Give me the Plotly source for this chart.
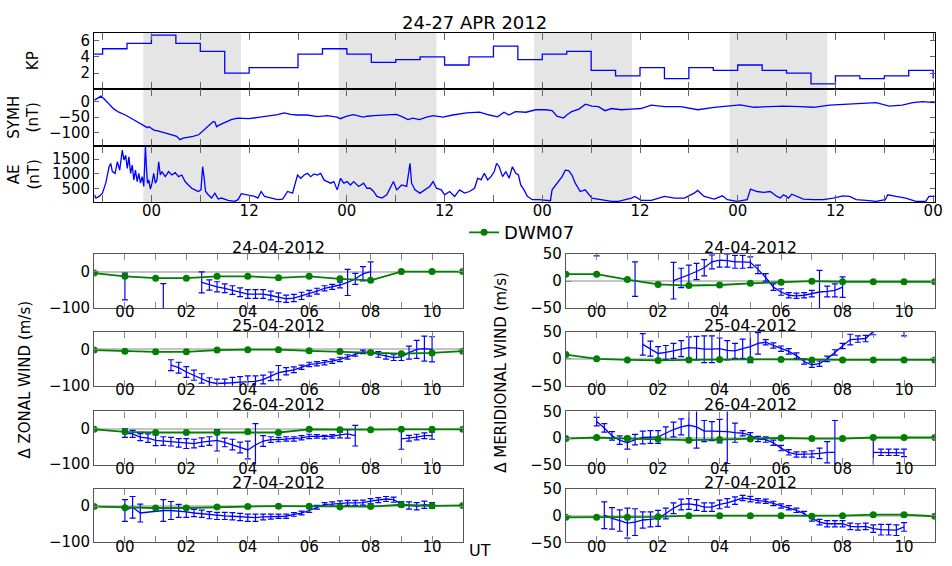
import plotly.graph_objects as go

FIG_W, FIG_H = 952, 566
FONT = "DejaVu Sans"
BLUE = "#0000ff"
GREEN = "#007f00"
SHADE = "#e5e5e5"

TITLE = "24-27 APR 2012"
DAY_LABELS = ["24-04-2012", "25-04-2012", "26-04-2012", "27-04-2012"]

# ---------------- geomagnetic indices (hours from 2012-04-24 00 UT) ----------------
KP_HOURS = [-9, -6, -3, 0, 3, 6, 9, 12, 15, 18, 21, 24, 27, 30, 33, 36, 39, 42, 45, 48,
            51, 54, 57, 60, 63, 66, 69, 72, 75, 78, 81, 84, 87, 90, 93, 96]
KP_VALUES = [4.33, 5.0, 5.67, 6.67, 5.67, 4.67, 2.0, 2.67, 2.67, 4.33, 5.0, 4.33, 3.33, 3.67,
             4.0, 3.0, 4.0, 5.33, 3.67, 4.33, 4.67, 2.33, 1.67, 2.67, 1.33, 2.67, 2.33, 3.0,
             2.33, 2.0, 0.67, 1.67, 1.33, 1.67, 2.33, 1.33]

SYMH_HOURS = [-7.0, -6.2, -5.8, -5.2, -4.6, -4.0, -3.2, -2.4, -1.5, -0.9, -0.5, -0.3, 0.3, 0.9,
              1.7, 2.5, 3.1, 3.5, 3.9, 4.5, 5.1, 5.8, 6.4, 7.0, 7.6, 7.8, 8.0, 8.3, 9.0, 9.8,
              10.6, 11.9, 13.1, 14.3, 15.5, 16.3, 17.1, 17.9, 19.1, 20.4, 21.6, 22.8, 23.2,
              24.0, 24.8, 26.0, 26.5, 27.3, 28.9, 30.1, 30.9, 31.5, 32.1, 32.9, 33.8, 34.6,
              35.8, 37.0, 38.7, 40.3, 41.5, 42.5, 43.3, 43.9, 44.7, 46.0, 47.2, 48.4, 49.2,
              49.8, 50.6, 51.0, 51.6, 52.5, 53.3, 54.1, 54.9, 55.7, 56.5, 57.7, 58.9, 60.1,
              61.4, 63.0, 65.0, 67.1, 69.1, 71.1, 72.3, 74.0, 76.0, 77.6, 79.7, 81.3, 83.3,
              85.3, 87.4, 89.0, 90.6, 92.2, 93.5, 94.7, 96.2]
SYMH_VALUES = [5, 18, 9, -8, -24, -34, -43, -55, -68, -76, -84, -81, -92, -95,
               -100, -107, -112, -123, -118, -116, -112, -107, -92, -76, -64, -66, -81, -76, -68, -58,
               -53, -55, -51, -47, -42, -36, -41, -43, -43, -48, -45, -50, -55,
               -47, -42, -50, -47, -45, -43, -41, -50, -58, -53, -58, -50, -45,
               -50, -43, -36, -34, -43, -49, -34, -43, -32, -34, -26, -26, -29,
               -47, -53, -43, -32, -24, -8, -14, -16, -29, -22, -26, -24, -22,
               -11, -16, -16, -26, -18, -14, -10, -18, -16, -14, -16, -18, -11,
               -8, -6, -3, -14, -11, -3, 0, -3]

AE_HOURS = [-7.0, -6.83, -6.42, -6.02, -5.61, -5.2, -5.0, -4.8, -4.47, -4.19, -3.9, -3.58, -3.38,
            -3.17, -2.97, -2.77, -2.56, -2.36, -2.16, -1.96, -1.75, -1.55, -1.35, -1.14, -0.94,
            -0.74, -0.62, -0.49, -0.33, -0.13, 0.07, 0.28, 0.48, 0.68, 0.89, 1.09, 1.29, 1.7,
            2.1, 2.51, 2.92, 3.32, 3.73, 4.13, 4.54, 4.95, 5.35, 5.76, 6.08, 6.29, 6.45, 6.65,
            6.98, 7.38, 7.79, 8.2, 8.6, 9.41, 10.22, 10.63, 11.04, 11.85, 12.66, 13.07, 13.47,
            13.88, 14.69, 15.5, 16.11, 16.72, 17.33, 17.94, 18.34, 18.75, 19.16, 19.56, 19.97,
            20.37, 20.78, 21.19, 21.59, 22.0, 22.4, 22.81, 23.22, 23.62, 24.03, 24.43, 24.84,
            25.45, 26.06, 26.47, 26.88, 27.28, 27.69, 28.3, 28.9, 29.72, 30.12, 30.73, 31.34,
            31.75, 31.95, 32.36, 32.97, 33.58, 34.18, 34.59, 35.0, 35.6, 36.01, 36.62, 37.23,
            37.84, 38.45, 39.06, 39.67, 40.07, 40.48, 40.88, 41.29, 41.7, 42.1, 42.39, 42.71,
            43.12, 43.52, 43.93, 44.33, 44.74, 45.07, 45.35, 45.76, 46.16, 46.77, 47.58, 48.4,
            49.0, 49.2, 49.82, 50.43, 50.83, 51.24, 51.64, 52.05, 52.66, 53.27, 54.08, 54.89,
            55.7, 56.51, 57.33, 58.14, 58.95, 59.36, 60.17, 61.39, 63.01, 64.23, 65.45, 66.66,
            67.07, 67.88, 69.1, 70.12, 70.72, 71.94, 73.16, 73.57, 74.38, 75.19, 76.0, 76.82,
            77.22, 77.63, 78.24, 78.64, 79.25, 80.06, 81.28, 82.5, 83.72, 84.94, 85.75, 86.56,
            87.78, 88.99, 90.13, 90.42, 91.43, 92.65, 93.87, 95.09, 95.49, 96.22]
AE_VALUES = [300, 190, 245, 355, 690, 1245, 1355, 1080, 1020, 1410, 1130, 1800, 1465,
             1630, 1190, 1575, 1020, 1300, 800, 1130, 745, 1020, 690, 910, 580,
             1935, 1245, 690, 800, 490, 690, 1020, 690, 800, 1410, 965, 1080, 910,
             1080, 965, 1045, 910, 965, 745, 630, 520, 465, 410, 465, 1245, 910, 410,
             300, 190, 355, 155, 190, 110, 80, 135, 335, 300, 245, 190, 410,
             245, 190, 135, 155, 410, 355, 965, 855, 965, 1020, 910, 1000,
             965, 1020, 800, 745, 690, 745, 465, 855, 690, 745, 630, 745,
             580, 690, 520, 520, 410, 245, 190, 300, 745, 465, 630, 580,
             1355, 690, 465, 355, 465, 580, 745, 520, 465, 300, 410, 245,
             465, 355, 410, 520, 855, 800, 1020, 800, 910, 1080, 1355, 1245,
             910, 1080, 855, 1245, 1020, 965, 630, 465, 245, 135, 135, 110,
             100, 465, 690, 910, 1130, 1110, 965, 690, 410, 465, 190, 155,
             135, 80, 80, 135, 190, 245, 110, 110, 245, 190, 190, 355,
             445, 245, 155, 265, 135, 80, 135, 490, 410, 380, 410, 245,
             190, 300, 190, 320, 245, 155, 135, 135, 190, 265, 245, 135,
             110, 80, 135, 300, 245, 190, 80, 80, 245, 245]

NIGHT_STARTS = [-1, 23, 47, 71]
NIGHT_ENDS = [11, 35, 59, 83]

TOP_TICK_HOURS = [-6, 0, 6, 12, 18, 24, 30, 36, 42, 48, 54, 60, 66, 72, 78, 84, 90, 96]
TOP_TICK_TEXT = ["", "00", "", "12", "", "00", "", "12", "", "00", "", "12", "", "00", "", "12", "", "00"]
KP_TICKS = [2, 4, 6]
SYMH_TICKS = [-100, -50, 0]
SYMH_TICK_TEXT = ["\u2212100", "\u221250", "0"]
AE_TICKS = [500, 1000, 1500]

# ---------------- wind panels (UT hours) ----------------
UT_TICKS = [-1, 0, 1, 2, 3, 4, 5, 6, 7, 8, 9, 10, 11]
UT_TICK_TEXT = ["", "00", "", "02", "", "04", "", "06", "", "08", "", "10", ""]
MODEL_HOURS = [-1, 0, 1, 2, 3, 4, 5, 6, 7, 8, 9, 10, 11]

# DWM07 model
ZON_MODEL_24 = [-4, -13, -18, -18, -13, -13, -17, -13, -20, -24, 0, 0, 0]
ZON_MODEL_25 = [-2, -5, -7, -7, -2, -1, -1, -4, -6, -9, -12, -10, -5]
ZON_MODEL_26 = [-2, -9, -11, -11, -11, -9, -11, -2, -3, -3, -2, -2, -2]
ZON_MODEL_27 = [-1, -4, -5, -5, -2, -1, 0, 0, -2, -1, 4, 1, 2]
MER_MODEL_24 = [13, 13, 3, -6, -8, -7, -4, -2, 0, -1, -1, -1, -1]
MER_MODEL_25 = [8, 0, -2, -3, -2, -1, -1, -1, -2, -2, -2, -2, -2]
MER_MODEL_26 = [-1, 1, -1, -2, -4, -3, -2, 0, -1, -1, 1, 1, 1]
MER_MODEL_27 = [-3, -3, -3, -2, 0, 0, 0, 0, -1, 0, 2, 2, -1]

# observed (None = gap)
ZON_T_24 = [0.0, 0.5, 1.25, 2.0, 2.5, 2.75, 3.0, 3.25, 3.5, 3.75, 4.0, 4.25, 4.5, 4.75, 5.0,
            5.25, 5.5, 5.75, 6.0, 6.25, 6.5, 6.75, 7.0, 7.25, 7.5, 7.75, 8.0]
ZON_V_24 = [-41, None, -95, None, -30, -37, -42, -46, -51, -57, -62, -62, -62, -66, -71,
            -75, -73, -67, -60, -54, -46, -42, -37, -30, -20, -6, 0]
ZON_E_24 = [37, None, 62, None, 29, 14, 14, 12, 12, 12, 12, 12, 12, 12, 12,
            10, 10, 10, 8, 8, 7, 7, 8, 36, 15, 20, 27]

ZON_T_25 = [1.5, 1.75, 2.0, 2.25, 2.5, 2.75, 3.0, 3.25, 3.5, 3.75, 4.0, 4.25, 4.5, 4.75, 5.0,
            5.25, 5.5, 5.75, 6.0, 6.25, 6.5, 6.75, 7.0, 7.25, 7.5, 7.75, 8.0, 8.25, 8.5, 8.75,
            9.0, 9.25, 9.5, 9.75, 10.0]
ZON_V_25 = [-44, -51, -63, -72, -81, -91, -95, -95, -93, -91, -89, -89, -84, -75, -65,
            -61, -57, -50, -42, -40, -37, -33, -28, -21, -14, -7, -9, -14, -19, -23,
            -21, -9, 0, 2, 0]
ZON_E_25 = [15, 15, 15, 14, 13, 12, 12, 12, 15, 15, 15, 15, 12, 12, 20,
            10, 8, 6, 6, 6, 6, 6, 6, 6, 5, 5, 5, 8, 8, 8,
            10, 18, 25, 35, 35]

ZON_T_26 = [0.0, 0.25, 0.5, 0.75, 1.0, 1.25, 1.5, 1.75, 2.0, 2.25, 2.5, 2.75, 3.0, 3.25, 3.5,
            3.75, 4.0, 4.25, 4.5, 4.75, 5.0, 5.25, 5.5, 5.75, 6.0, 6.25, 6.5, 6.75, 7.0, 7.25,
            7.5, 8.25, 9.0, 9.25, 9.5, 9.75, 10.0]
ZON_V_26 = [-13, -15, -24, -27, -33, -35, -37, -40, -42, -42, -38, -35, -33, -39, -45,
            -53, -60, -46, -35, -31, -31, -29, -29, -26, -22, -22, -24, -22, -18, -15,
            -20, None, -29, -27, -24, -20, -20]
ZON_E_26 = [12, 10, 10, 12, 15, 12, 12, 12, 14, 12, 12, 12, 30, 12, 15,
            15, 25, 60, 15, 8, 6, 6, 6, 6, 6, 5, 5, 5, 8, 12,
            29, None, 29, 8, 8, 8, 10]

ZON_T_27 = [0.0, 0.25, 0.5, 1.25, 1.5, 1.75, 2.0, 2.25, 2.5, 2.75, 3.0, 3.25, 3.5, 3.75, 4.0,
            4.25, 4.5, 4.75, 5.0, 5.25, 5.5, 5.75, 6.0, 6.25, 6.5, 6.75, 7.0, 7.25, 7.5, 7.75,
            8.0, 8.25, 8.5, 8.75, 9.0, 9.25, 9.5, 9.75, 10.0]
ZON_V_27 = [-12, -3, -19, -12, -12, -13, -16, -19, -21, -25, -27, -27, -28, -30, -32,
            -32, -30, -29, -28, -28, -23, -19, -12, -3, 5, 6, 8, 9, 9, 10,
            14, 17, 20, 18, 6, 2, 0, 4, 2]
ZON_E_27 = [30, 30, 25, 30, 25, 18, 15, 10, 10, 10, 10, 10, 10, 10, 10,
            10, 8, 7, 6, 6, 5, 5, 5, 5, 5, 6, 7, 7, 7, 7,
            7, 7, 7, 7, 7, 10, 10, 10, 8]

MER_T_24 = [0.0, 0.5, 1.25, 2.0, 2.5, 2.75, 3.0, 3.25, 3.5, 3.75, 4.0, 4.25, 4.5, 4.75, 5.0,
            5.25, 5.5, 5.75, 6.0, 6.25, 6.5, 6.75, 7.0, 7.25, 7.5, 7.75, 8.0]
MER_V_24 = [75, None, 4, None, 1, 6, 12, 18, 25, 36, 39, 38, 36, 36, 35,
            22, 7, -11, -20, -26, -27, -26, -23, -20, -19, -17, -11]
MER_E_24 = [28, None, 32, None, 34, 18, 18, 15, 15, 13, 13, 12, 12, 12, 10,
            8, 7, 6, 6, 5, 5, 5, 6, 40, 10, 12, 19]

MER_T_25 = [1.5, 1.75, 2.0, 2.25, 2.5, 2.75, 3.0, 3.25, 3.5, 3.75, 4.0, 4.25, 4.5, 4.75, 5.0,
            5.25, 5.5, 5.75, 6.0, 6.25, 6.5, 6.75, 7.0, 7.25, 7.5, 7.75, 8.0, 8.25, 8.5, 8.75,
            9.0, 9.4, 9.75, 10.0]
MER_V_25 = [27, 19, 10, 12, 15, 19, 21, 20, 18, 18, 19, 16, 15, 19, 23,
            29, 31, 25, 19, 14, 6, -5, -11, -9, 0, 12, 24, 36, 37, 38,
            51, None, 62, 60]
MER_E_25 = [20, 14, 13, 13, 14, 15, 20, 22, 25, 25, 20, 18, 14, 18, 30,
            20, 5, 5, 5, 5, 5, 5, 5, 5, 5, 5, 5, 10, 6, 6,
            6, None, 10, 17]

MER_T_26 = [0.0, 0.25, 0.5, 0.75, 1.0, 1.25, 1.5, 1.75, 2.0, 2.25, 2.5, 2.75, 3.0, 3.25, 3.5,
            3.75, 4.0, 4.25, 4.5, 4.75, 5.0, 5.25, 5.5, 5.75, 6.0, 6.25, 6.5, 6.75, 7.0, 7.25,
            7.5, 7.75, 8.4, 9.0, 9.25, 9.5, 9.75, 10.0]
MER_V_26 = [31, 19, 4, -4, -9, -3, 1, 2, 2, 9, 16, 21, 24, 21, 13,
            13, 13, 12, 10, 9, 5, -2, -3, -9, -19, -27, -31, -31, -30, -29,
            -27, -27, None, -27, -27, -27, -27, -28]
MER_E_26 = [8, 8, 8, 8, 12, 10, 12, 12, 12, 12, 14, 15, 30, 40, 20,
            18, 22, 60, 18, 5, 5, 5, 5, 5, 5, 5, 5, 5, 6, 10,
            20, 60, None, 28, 6, 6, 6, 7]

MER_T_27 = [0.25, 0.5, 0.75, 1.0, 1.25, 1.5, 1.75, 2.0, 2.25, 2.5, 2.75, 3.0, 3.25, 3.5, 3.75,
            4.0, 4.25, 4.5, 4.75, 5.0, 5.25, 5.5, 5.75, 6.0, 6.25, 6.5, 6.75, 7.0, 7.25, 7.5,
            7.75, 8.0, 8.25, 8.5, 8.75, 9.0, 9.25, 9.5, 9.75, 10.0]
MER_V_27 = [1, -5, -9, -14, -12, -8, -7, -5, 4, 14, 21, 22, 20, 16, 16,
            21, 24, 28, 33, 31, 28, 27, 23, 18, 15, 10, 4, -5, -12, -15,
            -15, -15, -20, -21, -20, -24, -26, -26, -27, -21]
MER_E_27 = [25, 20, 20, 28, 25, 15, 14, 15, 10, 10, 10, 10, 10, 8, 8,
            8, 8, 7, 5, 5, 4, 4, 4, 4, 4, 4, 4, 5, 5, 6,
            6, 6, 6, 6, 6, 7, 10, 10, 10, 8]

ZON_TICKS = [-100, 0]
ZON_TICK_TEXT = ["\u2212100", "0"]
MER_TICKS = [-50, 0, 50]
MER_TICK_TEXT = ["\u221250", "0", "50"]

# ---------------- layout geometry (pixels) ----------------
def fx(p):
    return p / FIG_W


def fy(p):
    return 1 - p / FIG_H


TOP_X = [fx(95), fx(942.7)]
TOP_ROWS = [(24.3, 83.0), (83.0, 141.7), (141.7, 199.7)]
LEFT_X = [fx(95), fx(466.7)]
RIGHT_X = [fx(570.7), fx(942.7)]
WIND_ROWS = [(253.3, 309.0), (333.7, 389.0), (415.7, 470.5), (495.7, 551.0)]

fig = go.Figure()
layout = dict(
    width=FIG_W, height=FIG_H,
    margin=dict(l=0, r=0, t=0, b=0),
    paper_bgcolor="white", plot_bgcolor="white",
    font=dict(family=FONT, size=15, color="black"),
    showlegend=True,
    legend=dict(x=fx(468), y=fy(231), xanchor="left", yanchor="middle",
                font=dict(size=18, family=FONT), bgcolor="rgba(0,0,0,0)",
                borderwidth=0, itemwidth=30),
)


def axis_common(linecolor, tickcolor, ticklen):
    return dict(showline=True, linecolor=linecolor, linewidth=1.2, mirror="ticks",
                ticks="inside", ticklen=ticklen, tickwidth=1, tickcolor=tickcolor,
                showgrid=False, zeroline=False, tickfont=dict(size=15, family=FONT, color="black"))


# top three panels
top_series = [
    (KP_HOURS, KP_VALUES, "hv", [0, 7], KP_TICKS, [str(v) for v in KP_TICKS]),
    (SYMH_HOURS, SYMH_VALUES, "linear", [-144, 40], SYMH_TICKS, SYMH_TICK_TEXT),
    (AE_HOURS, AE_VALUES, "linear", [45, 1935], AE_TICKS, [str(v) for v in AE_TICKS]),
]
shapes = []
for i, (xs, ys, shape, yr, yt, ytt) in enumerate(top_series):
    n = i + 1
    xname = "x" if n == 1 else f"x{n}"
    yname = "y" if n == 1 else f"y{n}"
    fig.add_trace(go.Scatter(x=xs, y=ys, mode="lines", line=dict(color=BLUE, width=1.3, shape=shape),
                             xaxis=xname, yaxis=yname, showlegend=False, hoverinfo="skip"))
    xa = axis_common("black", "#666666", 7)
    xa.update(domain=TOP_X, range=[-7.03, 96.2], anchor=yname, tickmode="array",
              tickvals=TOP_TICK_HOURS, ticktext=TOP_TICK_TEXT, showticklabels=(n == 3),
              ticklabelstandoff=-5)
    if n > 1:
        xa["matches"] = "x"
    ya = axis_common("black", "#666666", 5)
    top, bot = TOP_ROWS[i]
    ya.update(domain=[fy(bot), fy(top)], range=yr, anchor=xname, tickmode="array",
              tickvals=yt, ticktext=ytt)
    layout["xaxis" if n == 1 else f"xaxis{n}"] = xa
    layout["yaxis" if n == 1 else f"yaxis{n}"] = ya
    for s, e in zip(NIGHT_STARTS, NIGHT_ENDS):
        shapes.append(dict(type="rect", xref=xname, yref=f"{yname} domain", x0=s, x1=e, y0=0, y1=1,
                           fillcolor=SHADE, line=dict(width=0), layer="below"))

# wind panels
wind_panels = [
    (ZON_MODEL_24, ZON_T_24, ZON_V_24, ZON_E_24),
    (ZON_MODEL_25, ZON_T_25, ZON_V_25, ZON_E_25),
    (ZON_MODEL_26, ZON_T_26, ZON_V_26, ZON_E_26),
    (ZON_MODEL_27, ZON_T_27, ZON_V_27, ZON_E_27),
    (MER_MODEL_24, MER_T_24, MER_V_24, MER_E_24),
    (MER_MODEL_25, MER_T_25, MER_V_25, MER_E_25),
    (MER_MODEL_26, MER_T_26, MER_V_26, MER_E_26),
    (MER_MODEL_27, MER_T_27, MER_V_27, MER_E_27),
]
annotations = []
for k, (model, ot, ov, oe) in enumerate(wind_panels):
    n = k + 4
    xname, yname = f"x{n}", f"y{n}"
    col = 0 if k < 4 else 1
    row = k % 4
    fig.add_trace(go.Scatter(x=ot, y=ov, mode="lines", line=dict(color=BLUE, width=1.3),
                             error_y=dict(type="data", array=oe, symmetric=True, color=BLUE,
                                          thickness=1.2, width=3),
                             xaxis=xname, yaxis=yname, showlegend=False, hoverinfo="skip",
                             connectgaps=False))
    fig.add_trace(go.Scatter(x=MODEL_HOURS, y=model, mode="lines+markers", name="DWM07",
                             line=dict(color=GREEN, width=1.8), marker=dict(color=GREEN, size=7),
                             xaxis=xname, yaxis=yname, showlegend=(k == 0), hoverinfo="skip"))
    top, bot = WIND_ROWS[row]
    xa = axis_common("#555555", "#888888", 6)
    xa.update(domain=LEFT_X if col == 0 else RIGHT_X, range=[-1, 11], anchor=yname,
              tickmode="array", tickvals=UT_TICKS, ticktext=UT_TICK_TEXT, ticklabelstandoff=-10)
    ya = axis_common("#555555", "#888888", 5)
    if col == 0:
        ya.update(range=[-101, 48], tickvals=ZON_TICKS, ticktext=ZON_TICK_TEXT)
    else:
        ya.update(range=[-50, 50], tickvals=MER_TICKS, ticktext=MER_TICK_TEXT)
    ya.update(domain=[fy(bot), fy(top)], anchor=xname, tickmode="array",
              zeroline=True, zerolinecolor="#c4c4c4", zerolinewidth=1.5)
    layout[f"xaxis{n}"] = xa
    layout[f"yaxis{n}"] = ya
    cx = (95 + 466.7) / 2 if col == 0 else (570.7 + 942.7) / 2
    annotations.append(dict(text=DAY_LABELS[row], x=fx(cx), y=fy(top), xref="paper", yref="paper",
                            xanchor="center", yanchor="bottom", yshift=-5, showarrow=False,
                            font=dict(size=16, family=FONT, color="black")))

# text labels
def label(text, x, y, size=15, angle=0):
    return dict(text=text, x=fx(x), y=fy(y), xref="paper", yref="paper", xanchor="center",
                yanchor="middle", showarrow=False, textangle=angle,
                font=dict(size=size, family=FONT, color="black"))


annotations += [
    label(TITLE, 478.5, 14, size=18),
    label("KP", 33.5, 53.7, angle=-90),
    label("SYMH<br>(nT)", 24.5, 112, angle=-90),
    label("AE<br>(nT)", 24.5, 170.7, angle=-90),
    label("\u0394 ZONAL WIND (m/s)", 25, 383, angle=-90),
    label("\u0394 MERIDIONAL WIND (m/s)", 505, 375, angle=-90),
    label("UT", 484, 559, size=16),
]
layout["annotations"] = annotations
layout["shapes"] = shapes
fig.update_layout(**layout)
fig.write_html("out.html")
